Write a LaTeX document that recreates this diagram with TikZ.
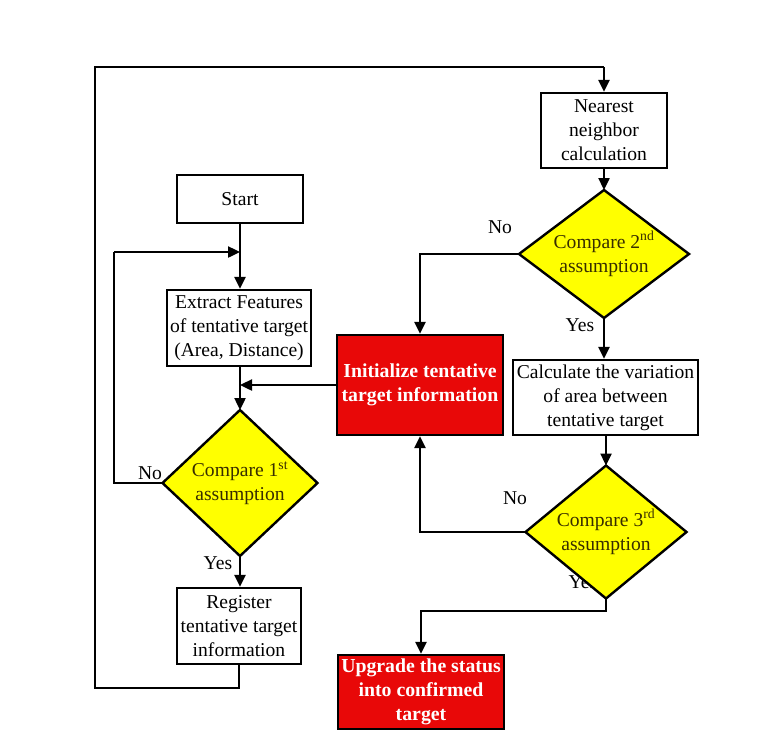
\documentclass[tikz,border=0pt]{standalone}
\usepackage{fontspec}
\setmainfont{Liberation Serif}
\usetikzlibrary{shapes.geometric,arrows.meta,calc}
\definecolor{boxred}{RGB}{232,8,8}
\definecolor{dyellow}{RGB}{255,255,0}
\definecolor{olivetext}{RGB}{55,45,0}
\tikzset{
  every node/.style={font=\fontsize{19.6}{24}\selectfont},
  flowbox/.style={draw=black,line width=2.4pt,fill=white,align=center,inner sep=0pt},
  redbox/.style={draw=black,line width=2.4pt,fill=boxred,text=white,align=center,inner sep=0pt,font=\fontsize{19.8}{24}\selectfont\bfseries},
  decision/.style={diamond,draw=black,line width=2.4pt,fill=dyellow,inner sep=0pt,outer sep=0pt},
  dtext/.style={text=olivetext,align=center,inner sep=0pt},
  conn/.style={line width=2.4pt,-{Triangle[length=12pt,width=11pt]}},
  plain/.style={line width=2.4pt},
  lbl/.style={inner sep=0pt}
}
\begin{document}
\begin{tikzpicture}[x=1pt,y=-1pt]
\useasboundingbox (0,0) rectangle (781,736);
% label drawn first so the diamond covers part of the hidden "Yes"
\node[lbl] (yes3) at (583,582) {Yes};

\node[flowbox,minimum width=126pt,minimum height=75pt] (near) at (604,130.5) {Nearest\\neighbor\\calculation};
\node[decision,minimum width=170pt,minimum height=128pt] (d2) at (604,254) {};
\node[dtext] (d2t) at (d2.center) {Compare 2\textsuperscript{nd}\\assumption};
\node[redbox,minimum width=166pt,minimum height=100pt] (init) at (420,385) {Initialize tentative\\target information};
\node[flowbox,minimum width=185pt,minimum height=75pt] (calc) at (605.5,397.5) {Calculate the variation\\of area between\\tentative target};
\node[decision,minimum width=161pt,minimum height=133pt] (d3) at (606,532) {};
\node[dtext] (d3t) at (d3.center) {Compare 3\textsuperscript{rd}\\assumption};
\node[redbox,minimum width=166pt,minimum height=74pt] (up) at (421,692) {Upgrade the status\\into confirmed\\target};

\node[flowbox,minimum width=126pt,minimum height=48pt] (start) at (240,199) {Start};
\node[flowbox,minimum width=144pt,minimum height=76pt] (ext) at (239,328) {Extract Features\\of tentative target\\(Area, Distance)};
\node[decision,minimum width=155pt,minimum height=146pt] (d1) at (240,483) {};
\node[dtext] (d1t) at (d1.center) {Compare 1\textsuperscript{st}\\assumption};
\node[flowbox,minimum width=124pt,minimum height=76pt] (reg) at (239,626) {Register\\tentative target\\information};

% coordinates for loops
\coordinate (bl) at (95,688);
\coordinate (tl) at (95,67);
\coordinate (lp1) at (114,483);
\coordinate (lp2) at (114,252);
\coordinate (y3) at (606,611);

% outer loop
\draw[plain] (reg.south) -- (reg.south |- bl) -- (bl) -- (tl) -- (near.north |- tl);
\draw[conn] (near.north |- tl) -- (near.north);
\draw[conn] (near.south) -- (d2.north);
\draw[conn] (d2.west) -| (init.north);
\draw[conn] (d2.south) -- (d2.south |- calc.north);
\draw[conn] (calc.south -| d3.north) -- (d3.north);
\draw[conn] (d3.west) -| (init.south);
\draw[conn] (d3.south) -- (y3) -| (up.north);

\draw[conn] (start.south) -- (start.south |- ext.north);
\draw[plain] (d1.west) -- (lp1) -- (lp2);
\draw[conn] (lp2) -- (start.south |- lp2);
\draw[conn] (ext.south -| d1.north) -- (d1.north);
\draw[conn] (init.west) -- (d1.north |- init.west);
\draw[conn] (d1.south) -- (d1.south |- reg.north);

% labels
\node[lbl] (no2) at (500,227) {No};
\node[lbl] (yes2) at (580,325) {Yes};
\node[lbl] (no3) at (515,498) {No};
\node[lbl] (no1) at (150,473) {No};
\node[lbl] (yes1) at (218,563) {Yes};
\end{tikzpicture}
\end{document}
